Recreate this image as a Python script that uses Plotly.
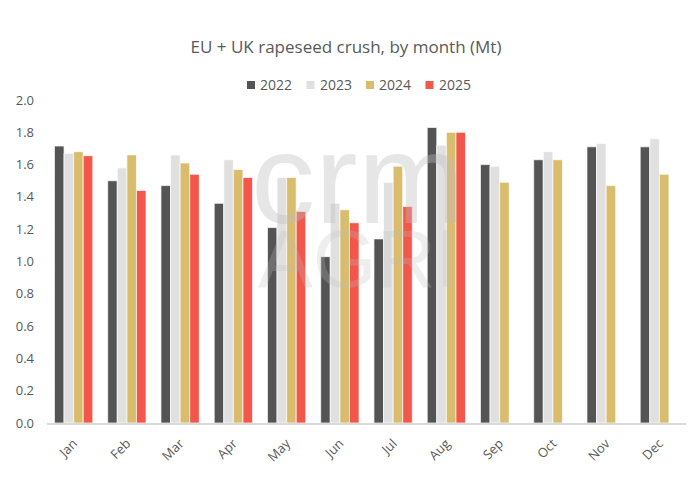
import plotly.graph_objects as go

months = ["Jan", "Feb", "Mar", "Apr", "May", "Jun", "Jul", "Aug", "Sep", "Oct", "Nov", "Dec"]
y2022 = [1.715, 1.50, 1.47, 1.36, 1.21, 1.03, 1.14, 1.83, 1.60, 1.63, 1.71, 1.71]
y2023 = [1.67, 1.58, 1.66, 1.63, 1.52, 1.36, 1.49, 1.72, 1.59, 1.68, 1.73, 1.76]
y2024 = [1.68, 1.66, 1.61, 1.57, 1.52, 1.32, 1.59, 1.80, 1.49, 1.63, 1.47, 1.54]
y2025 = [1.655, 1.44, 1.54, 1.52, 1.31, 1.24, 1.34, 1.80, None, None, None, None]
series = [("2022", y2022, "#545454"), ("2023", y2023, "#e0e0e0"),
          ("2024", y2024, "#d9bd6d"), ("2025", y2025, "#f2574b")]

W, H = 692, 480
L, R, T, B = 47, 6, 100, 57
pw, ph = W - L - R, H - T - B

def px(x):
    return (x - L) / pw

def py(y):
    return (H - B - y) / ph

fig = go.Figure()
for name, vals, col in series:
    fig.add_trace(go.Bar(x=months, y=vals, name=name, marker_color=col,
                         marker_line_color="rgba(255,255,255,0.7)", marker_line_width=1,
                         showlegend=False))

font = "Open Sans, Liberation Sans, sans-serif"
txtcol = "#595959"

# custom legend (squares + labels), compact like the reference
shapes, annotations = [], []
leg_x0 = 247
step = 59.5
for i, (name, vals, col) in enumerate(series):
    sx = leg_x0 + i * step
    shapes.append(dict(type="rect", xref="paper", yref="paper",
                       x0=px(sx), x1=px(sx + 8), y0=py(89), y1=py(81),
                       fillcolor=col, line=dict(width=0)))
    annotations.append(dict(text=name, xref="paper", yref="paper", x=px(sx + 11), y=py(85),
                            xanchor="left", yanchor="middle", showarrow=False,
                            font=dict(family=font, size=14, color=txtcol)))

# watermark
annotations += [
    dict(text="crm", x=px(357), y=py(178), xref="paper", yref="paper", showarrow=False,
         xanchor="center", yanchor="middle",
         font=dict(family="Liberation Sans, sans-serif", size=128, color="rgba(190,190,190,0.38)")),
    dict(text="AGRI", x=px(358), y=py(258), xref="paper", yref="paper", showarrow=False,
         xanchor="center", yanchor="middle",
         font=dict(family="Liberation Sans, sans-serif", size=82, color="rgba(190,190,190,0.26)")),
]

fig.update_layout(
    width=W, height=H,
    margin=dict(l=L, r=R, t=T, b=B),
    paper_bgcolor="white", plot_bgcolor="white",
    barmode="group", bargap=0.28, bargroupgap=0.0,
    title=dict(text="EU + UK rapeseed crush, by month (Mt)", x=0.5, xanchor="center",
               y=1 - 47 / H, yanchor="middle", font=dict(family=font, size=17, color=txtcol)),
    font=dict(family=font, color=txtcol),
    shapes=shapes, annotations=annotations,
)
fig.update_xaxes(showline=True, linecolor="#d9d9d9", linewidth=1.5, tickangle=-45,
                 ticklabelstandoff=6,
                 tickfont=dict(family=font, size=13, color=txtcol), ticks="")
fig.update_yaxes(range=[0, 2.0], dtick=0.2, tickformat=".1f", showgrid=False, zeroline=False,
                 ticklabelstandoff=12,
                 tickfont=dict(family=font, size=13, color=txtcol))
fig.write_html("out.html")
